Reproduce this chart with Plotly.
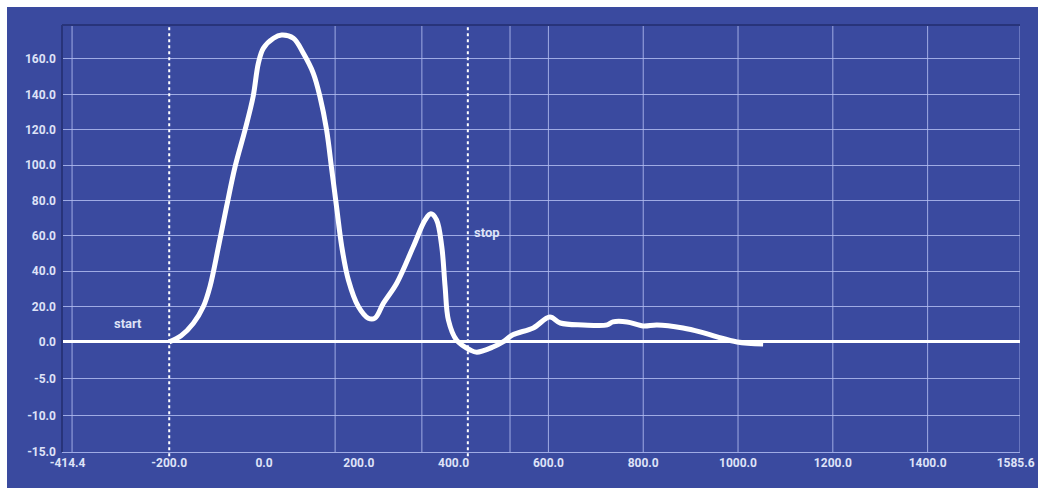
import numpy as np
import plotly.graph_objects as go

# ---- data -------------------------------------------------------------
curve_x = [-200, -175, -149, -128, -114, -96, -79, -61, -40, -23, -12, -1.5,
           20, 37, 62, 83, 104, 118, 132, 143, 153, 164, 178, 199, 220, 234,
           252, 280, 315, 340, 352, 364, 375, 382, 389, 406, 435, 449, 483,
           504, 525, 568, 603, 625, 673, 724, 736, 766, 800, 829, 884, 920,
           956, 998, 1053]
curve_y = [0.0, 3.5, 10.6, 20.0, 31.3, 53.9, 76.5, 99.1, 119.9, 138.7, 157.5,
           166.0, 171.7, 173.5, 171.7, 163.2, 151.9, 138.7, 119.9, 97.2, 76.5,
           53.9, 35.0, 20.0, 13.4, 13.4, 21.9, 33.2, 53.9, 69.0, 72.4, 69.0,
           53.9, 31.3, 12.4, 1.1, -1.1, -1.4, -0.7, 0.0, 4.0, 7.9, 14.1, 10.7,
           9.6, 9.6, 11.3, 11.3, 9.0, 9.6, 7.9, 5.7, 2.8, 0.0, -0.3]

x_tick_vals = [-414.4, -200, 0, 200, 400, 600, 800, 1000, 1200, 1400, 1585.6]
y_tick_vals = [160, 140, 120, 100, 80, 60, 40, 20, 0, -5, -10, -15]
x_grid_lines = [-405, 150, 333, 519, 600, 800, 1000, 1200, 1400, 1595]

start_x, stop_x = -200, 430
x_range = [-426.2, 1594.9]
y_top = 179.2

# negative values use an expanded scale below the zero line
NEG_SCALE = 4.15


def y_pos(v):
    v = np.asarray(v, dtype=float)
    return np.where(v < 0, v * NEG_SCALE, v)


# ---- styling ----------------------------------------------------------
BG = "rgb(58,74,159)"
GRID = "rgba(178,188,240,0.85)"
FRAME = "rgb(40,52,122)"
TEXT = "rgb(222,226,247)"
FONT = "Roboto, Liberation Sans, sans-serif"

fig = go.Figure()

fig.add_trace(go.Scatter(
    x=curve_x, y=y_pos(curve_y), mode="lines",
    line=dict(color="white", width=5, shape="spline", smoothing=1.0),
    hoverinfo="skip", showlegend=False,
))

shapes = []
# vertical grid lines
for gx in x_grid_lines:
    shapes.append(dict(type="line", xref="x", yref="paper", x0=gx, x1=gx,
                       y0=0, y1=1, line=dict(color=GRID, width=1),
                       layer="below"))
# start / stop markers
for mx in (start_x, stop_x):
    shapes.append(dict(type="line", xref="x", yref="paper", x0=mx, x1=mx,
                       y0=-0.01, y1=1, line=dict(color="white", width=2,
                                                 dash="dot"),
                       layer="above"))
# dark frame along the top and left of the plot area
shapes.append(dict(type="line", xref="paper", yref="paper", x0=0, x1=1,
                   y0=1, y1=1, line=dict(color=FRAME, width=2)))
shapes.append(dict(type="line", xref="paper", yref="paper", x0=0, x1=0,
                   y0=0, y1=1, line=dict(color=FRAME, width=2)))
# white page edge at the top and left
shapes.append(dict(type="rect", xref="paper", yref="paper",
                   x0=-0.07, x1=-0.0574, y0=-0.1, y1=1.07,
                   fillcolor="white", line=dict(width=0)))
shapes.append(dict(type="rect", xref="paper", yref="paper",
                   x0=-0.07, x1=1.03, y0=1.0422, y1=1.07,
                   fillcolor="white", line=dict(width=0)))

annotations = [
    dict(x=-288, y=10.5, xref="x", yref="y", text="start", showarrow=False,
         font=dict(family=FONT, size=13, color=TEXT, weight="bold")),
    dict(x=470, y=62, xref="x", yref="y", text="stop", showarrow=False,
         font=dict(family=FONT, size=13, color=TEXT, weight="bold")),
]

tick_font = dict(family=FONT, size=12, color=TEXT, weight="bold")

fig.update_layout(
    width=1038, height=488,
    margin=dict(l=62, r=18, t=25, b=36, autoexpand=False),
    paper_bgcolor=BG, plot_bgcolor=BG,
    shapes=shapes, annotations=annotations,
    font=dict(family=FONT, size=12, color=TEXT),
    xaxis=dict(
        range=x_range, showgrid=False, zeroline=False, automargin=False,
        tickvals=x_tick_vals, ticktext=[f"{v:.1f}" for v in x_tick_vals],
        showline=True, linecolor=GRID, linewidth=1,
        ticks="", tickfont=tick_font, ticklabeloverflow="allow",
    ),
    yaxis=dict(
        range=[-15 * NEG_SCALE, y_top], showgrid=True, gridcolor=GRID,
        gridwidth=1, zeroline=True, zerolinecolor="white", zerolinewidth=3,
        automargin=False,
        tickvals=list(y_pos(y_tick_vals)),
        ticktext=[f"{v:.1f}" for v in y_tick_vals],
        ticks="", ticklabelstandoff=5, tickfont=tick_font,
    ),
)

fig.write_html("out.html")
